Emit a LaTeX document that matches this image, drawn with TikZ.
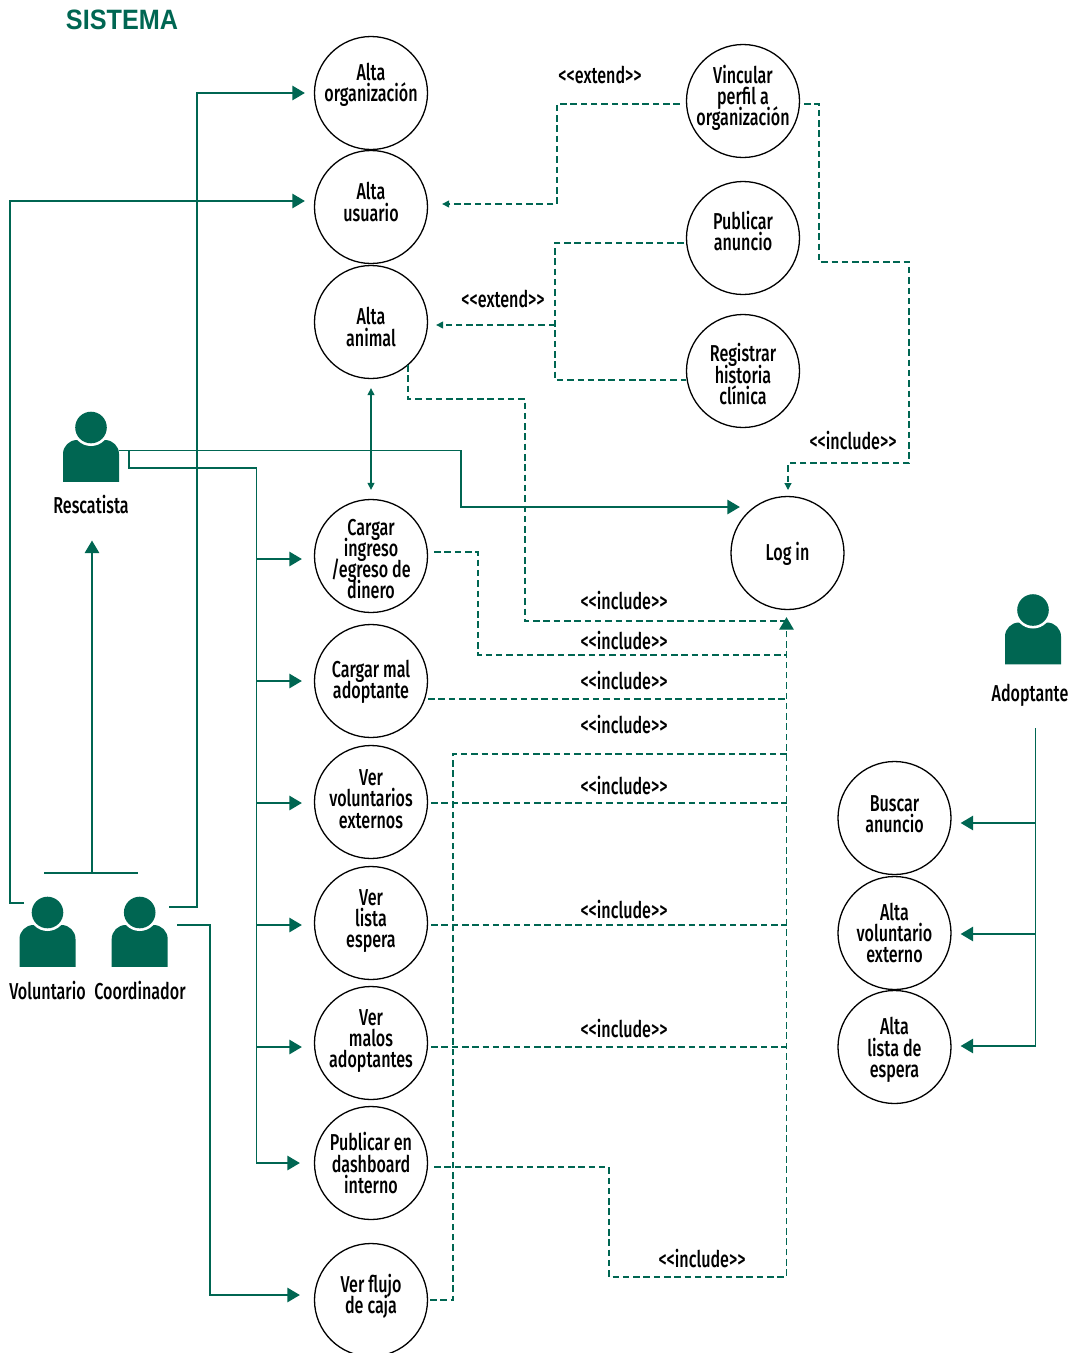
\documentclass[tikz,border=0pt]{standalone}
\usepackage{fontspec}
\usetikzlibrary{arrows.meta,calc}
\setmainfont[FakeStretch=0.7]{Fira Sans Medium}
\newfontfamily\titlefont[FakeStretch=0.9]{Liberation Sans}
\definecolor{verde}{HTML}{006652}
\newcommand\uct[2]{\makebox[0pt]{\raisebox{\dimexpr#1pt-7.25pt\relax}[0pt][0pt]{$\vcenter{\hsize=200pt\baselineskip=21.3pt\lineskiplimit=-30pt\centering #2\par}$}}}
\newcommand\actor[6]{% name, head x, head y, label x, label y, label
  \node[actorbox] (#1) at (#2,#3+21) {};
  \fill[verde,rounded corners=14pt] (#2-28,#3+54.3) [sharp corners] -- (#2-28,#3+30) [rounded corners=14pt] -- (#2-28,#3+12.5) -- (#2+28,#3+12.5) [sharp corners] -- (#2+28,#3+54.3) -- cycle;
  \fill[white] (#2,#3) circle (18.5);
  \fill[verde] (#2,#3) circle (15.8);
  \node[txt] (#1l) at (#4,#5) {#6};
}
\tikzset{
  ucnode/.style={draw=black,line width=1.3pt,circle,minimum size=113pt,inner sep=0pt,font=\fontsize{23}{23}\selectfont},
  txt/.style={inner sep=0pt,font=\fontsize{23}{23}\selectfont},
  actorbox/.style={inner sep=0pt,minimum width=56pt,minimum height=70pt},
  ln/.style={draw=verde,line width=1.3pt},
  dsh/.style={draw=verde,line width=1.2pt,dash pattern=on 6.5pt off 3.8pt},
  big/.style={-{Triangle[length=12.5pt,width=14.5pt,fill=verde]}},
  small/.style={-{Triangle[length=7pt,width=7pt,fill=verde]}},
  smallb/.style={{Triangle[length=7pt,width=7pt,fill=verde]}-{Triangle[length=7pt,width=7pt,fill=verde]}},
}
\begin{document}
\begin{tikzpicture}[x=1pt,y=-1pt]
\useasboundingbox (0,0) rectangle (1078,1353);
\node[inner sep=0pt,text=verde,font=\titlefont\bfseries\fontsize{28}{28}\selectfont] (titulo) at (122,20) {SISTEMA};
% use cases
\node[ucnode] (aorg) at (371,93) {\uct{9}{Alta\\organización}};
\node[ucnode] (ausu) at (371,207) {\uct{6}{Alta\\usuario}};
\node[ucnode] (aani) at (371,322) {\uct{-4}{Alta\\animal}};
\node[ucnode] (cing) at (371,556) {\uct{-2}{Cargar\\ingreso\\/egreso de\\dinero}};
\node[ucnode] (cmal) at (371,681) {\uct{0}{Cargar mal\\adoptante}};
\node[ucnode] (vvol) at (371,802) {\uct{4}{Ver\\voluntarios\\externos}};
\node[ucnode] (vlis) at (371,923) {\uct{3}{Ver\\lista\\espera}};
\node[ucnode] (vmal) at (371,1043) {\uct{3}{Ver\\malos\\adoptantes}};
\node[ucnode] (pdas) at (371,1163) {\uct{1}{Publicar en\\dashboard\\interno}};
\node[ucnode] (vflu) at (371,1300) {\uct{5}{Ver flujo\\de caja}};
\node[ucnode] (vinc) at (743,101) {\uct{4}{Vincular\\perfil a\\organización}};
\node[ucnode] (panu) at (743,238) {\uct{8}{Publicar\\anuncio}};
\node[ucnode] (rhis) at (743,371) {\uct{-2}{Registrar\\historia\\clínica}};
\node[ucnode] (login) at (787.5,553) {\uct{0}{Log in}};
\node[ucnode] (banu) at (894.5,818) {\uct{5}{Buscar\\anuncio}};
\node[ucnode] (avol) at (894.5,933) {\uct{1}{Alta\\voluntario\\externo}};
\node[ucnode] (ales) at (894.5,1047) {\uct{-2}{Alta\\lista de\\espera}};
% actors
\actor{res}{91}{427.5}{91}{504}{Rescatista}
\actor{vol}{47.5}{912.5}{47.5}{990}{Voluntario}
\actor{coo}{139.7}{912.5}{140}{990}{Coordinador}
\actor{ado}{1033}{610}{1030}{695}{Adoptante}
% free ends
\coordinate (volend) at (24,903);
\coordinate (cooa) at (169,907);
\coordinate (coob) at (177,925);
\coordinate (resb) at (129,451);
\coordinate (gl) at (44,873);
\coordinate (gr) at (138,873);
\coordinate (gm) at (92,873);
\coordinate (adotop) at (1035.5,728);
\coordinate (d1) at (786.5,1277);
\coordinate (ani) at (408,365);
% solid connectors
\draw[ln,big,shorten >=9pt] (volend) -- (10,903) -- (10,201) -- (ausu.west |- 0,201);
\draw[ln,big,shorten >=9pt] (cooa) -- (197,907) -- (197,93) -- (aorg.west);
\draw[ln,big,shorten >=14pt] (coob) -- (210,925) -- (210,1295) -- (vflu.west |- 0,1295);
\draw[ln] (gl) -- (gr);
\draw[ln,big,shorten >=27pt] (gm) -- (resl.south -| gm);
\draw[ln,big,shorten >=-9.5pt] (res.east |- 0,450.5) -- (461,450.5) -- (461,507) -- (login.west |- 0,507);
\draw[ln,big,shorten >=14pt] (resb) -- (129,468) -- (256.5,468) -- (256.5,1163) -- (pdas.west);
\foreach \n/\yy in {cing/559,cmal/681,vvol/803,vlis/925,vmal/1047}
  \draw[ln,big,shorten >=12pt] (256.5,\yy) -- (\n.west |- 0,\yy);
\draw[ln,smallb,shorten >=9pt,shorten <=9pt] (aani.south) -- (cing.north);
% adoptante
\draw[ln,big,shorten >=9pt] (adotop) -- (1035.5,1046) -- (ales.east |- 0,1046);
\draw[ln,big,shorten >=9pt] (1035.5,823) -- (banu.east |- 0,823);
\draw[ln,big,shorten >=9pt] (1035.5,934) -- (avol.east |- 0,934);
% dashed connectors
\draw[dsh,small,shorten <=6pt,shorten >=14pt] (vinc.west |- 0,104) -- (557,104) -- (557,204) -- (ausu.east |- 0,204);
\draw[dsh,small,shorten <=4pt,shorten >=6pt] (vinc.east |- 0,104) -- (819,104) -- (819,262) -- (909,262) -- (909,463) -- (788,463) -- (788,496);
\draw[dsh,shorten <=2pt] (panu.west |- 0,243) -- (555,243) -- (555,380) -- (rhis.west |- 0,380);
\draw[dsh,small,shorten >=8pt] (555,325) -- (aani.east |- 0,325);
\draw[dsh] (ani) -- (408,399) -- (525,399) -- (525,621) -- (786.5,621);
\draw[dsh,shorten <=6pt] (cing.east |- 0,552) -- (478,552) -- (478,655) -- (786.5,655);
\draw[dsh] (cmal.east |- 0,699) -- (786.5,699);
\draw[dsh,shorten <=2pt] (vflu.east |- 0,1300) -- (453,1300) -- (453,754) -- (786.5,754);
\draw[dsh,shorten <=3pt] (vvol.east |- 0,803) -- (786.5,803);
\draw[dsh,shorten <=3pt] (vlis.east |- 0,925) -- (786.5,925);
\draw[dsh,shorten <=3pt] (vmal.east |- 0,1047) -- (786.5,1047);
\draw[dsh,big,shorten <=6pt,shorten >=7pt] (pdas.east |- 0,1167) -- (609,1167) -- (609,1277) -- (d1) -- (login.south -| d1);
% labels
\node[txt] (e1) at (600,75) {<{}<extend>{}>};
\node[txt] (e2) at (503,299) {<{}<extend>{}>};
\node[txt] (i0) at (853,440) {<{}<include>{}>};
\node[txt] (i1) at (624,600) {<{}<include>{}>};
\node[txt] (i2) at (624,640) {<{}<include>{}>};
\node[txt] (i3) at (624,680) {<{}<include>{}>};
\node[txt] (i4) at (624,724) {<{}<include>{}>};
\node[txt] (i5) at (624,785) {<{}<include>{}>};
\node[txt] (i6) at (624,909) {<{}<include>{}>};
\node[txt] (i7) at (624,1028) {<{}<include>{}>};
\node[txt] (i8) at (702,1258) {<{}<include>{}>};
\end{tikzpicture}
\end{document}
